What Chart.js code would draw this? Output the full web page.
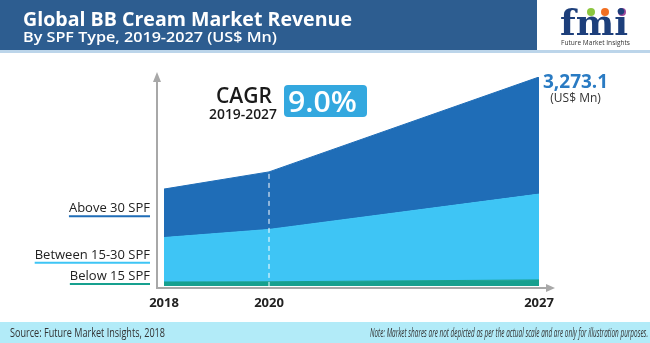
<!DOCTYPE html>
<html lang="en">
<head>
<meta charset="UTF-8">
<title>Global BB Cream Market Revenue</title>
<script src="https://cdn.jsdelivr.net/npm/chart.js@4.4.1/dist/chart.umd.min.js"></script>
<style>
  html, body { margin: 0; padding: 0; background: #fff; }
  .wrap { position: relative; width: 650px; height: 343px; overflow: hidden; }
  #chart, .deco { position: absolute; left: 0; top: 0; }
  .deco text { font-family: "Open Sans", sans-serif; }
</style>
</head>
<body>
<div class="wrap">
  <canvas id="chart" width="650" height="343"></canvas>
  <svg class="deco" width="650" height="343" xmlns="http://www.w3.org/2000/svg">
    <!-- header band -->
    <rect x="0" y="0" width="537" height="50" fill="#2d5d90"/>
    <rect x="0" y="50" width="650" height="3" fill="#bcd5ea"/>
    <text x="23" y="26" fill="#fff" font-size="19" font-weight="700" textLength="329" lengthAdjust="spacingAndGlyphs">Global BB Cream Market Revenue</text>
    <text x="23" y="42" fill="#fff" font-size="15" font-weight="600" textLength="254" lengthAdjust="spacingAndGlyphs">By SPF Type, 2019-2027 (US$ Mn)</text>
    <!-- logo -->
    <circle cx="591" cy="12" r="4" fill="#8cc63f"/>
    <circle cx="605" cy="12" r="4" fill="#f26f22"/>
    <circle cx="622" cy="12" r="4" fill="#9d4a9c"/>
    <text x="560" y="35" fill="#1d3f7b" font-size="36" font-weight="700" style="font-family:'DejaVu Serif',serif" textLength="68" lengthAdjust="spacingAndGlyphs">fmi</text>
    <text x="561" y="45" fill="#333" font-size="8" textLength="69" lengthAdjust="spacingAndGlyphs">Future Market Insights</text>
    <!-- CAGR callout -->
    <text x="216" y="103" fill="#1a1a1a" font-size="21" font-weight="600" textLength="56" lengthAdjust="spacingAndGlyphs">CAGR</text>
    <text x="209" y="119" fill="#1a1a1a" font-size="14" font-weight="600" textLength="68" lengthAdjust="spacingAndGlyphs">2019-2027</text>
    <rect x="284" y="85" width="83" height="32" rx="4" fill="#33a8df"/>
    <text x="288" y="112" fill="#fff" font-size="28" font-weight="600" textLength="69" lengthAdjust="spacingAndGlyphs">9.0%</text>
    <!-- footer -->
    <rect x="0" y="322" width="650" height="21" fill="#b2ebf8"/>
    <text x="10" y="337" fill="#333" font-size="12" textLength="155" lengthAdjust="spacingAndGlyphs">Source: Future Market Insights, 2018</text>
    <text x="370" y="337" fill="#333" font-size="12" font-style="italic" textLength="278" lengthAdjust="spacingAndGlyphs">Note: Market shares are not depicted as per the actual scale and are only for illustration purposes.</text>
  </svg>
</div>
<script>
// revenue by SPF type, US$ Mn
const years = [2018, 2020, 2027];
const yearLabels = ['2018', '2020', '2027'];
const below15 = [63, 66, 95];
const between15to30 = [696, 820, 1344];
const above30 = [759, 901, 1834.1];

const totals = years.map((_, i) => below15[i] + between15to30[i] + above30[i]);

// the time axis is drawn out of proportion: 2020 sits at 28% of the width
const axisStops = [0, 0.28, 1];

class StretchedScale extends Chart.LinearScale {
  getPixelForValue(value) {
    if (value === null || isNaN(value)) return NaN;
    let i = 0;
    while (i < years.length - 2 && value > years[i + 1]) i++;
    const t = (value - years[i]) / (years[i + 1] - years[i]);
    const dec = axisStops[i] + t * (axisStops[i + 1] - axisStops[i]);
    return this.getPixelForDecimal(dec);
  }
}
StretchedScale.id = 'stretched';
StretchedScale.defaults = {};
Chart.register(StretchedScale);

const toPoints = vals => years.map((yr, i) => ({ x: yr, y: vals[i] }));

const decorPlugin = {
  id: 'decor',
  afterDatasetsDraw(chart) {
    const { ctx, chartArea: a, scales: { x, y } } = chart;
    const base = a.bottom + 2;
    ctx.save();

    // dashed marker at 2020
    const mx = x.getPixelForValue(years[1]);
    ctx.strokeStyle = '#ffffff';
    ctx.lineWidth = 1;
    ctx.setLineDash([5, 4]);
    ctx.beginPath();
    ctx.moveTo(mx, y.getPixelForValue(totals[1]) + 2);
    ctx.lineTo(mx, base);
    ctx.stroke();
    ctx.setLineDash([]);

    // axes with arrow heads
    const ax = a.left - 7;
    ctx.strokeStyle = '#a8a8a8';
    ctx.fillStyle = '#a8a8a8';
    ctx.lineWidth = 2;
    ctx.beginPath();
    ctx.moveTo(ax, base + 1);
    ctx.lineTo(ax, a.top + 4);
    ctx.moveTo(ax, base);
    ctx.lineTo(a.right + 9, base);
    ctx.stroke();
    ctx.beginPath();
    ctx.moveTo(ax, a.top - 5);
    ctx.lineTo(ax - 4, a.top + 5);
    ctx.lineTo(ax + 4, a.top + 5);
    ctx.closePath();
    ctx.moveTo(a.right + 16, base);
    ctx.lineTo(a.right + 7, base - 4);
    ctx.lineTo(a.right + 7, base + 4);
    ctx.closePath();
    ctx.fill();

    // series names, underlined in the series colour
    ctx.font = '13px "Open Sans"';
    ctx.textAlign = 'right';
    ctx.textBaseline = 'alphabetic';
    const lx = a.left - 14;
    chart.data.datasets.forEach((ds, i) => {
      const top = chart.getDatasetMeta(i).data[0].y;
      const bottom = i === 0 ? y.getPixelForValue(0) : chart.getDatasetMeta(i - 1).data[0].y;
      const bl = Math.min((top + bottom) / 2 - 1, a.bottom - 6);
      ctx.fillStyle = '#222';
      ctx.fillText(ds.label, lx, bl);
      const w = ctx.measureText(ds.label).width;
      ctx.strokeStyle = ds.backgroundColor;
      ctx.lineWidth = 2;
      ctx.beginPath();
      ctx.moveTo(lx - w, bl + 4);
      ctx.lineTo(lx, bl + 4);
      ctx.stroke();
    });

    // total for the last year
    const last = years.length - 1;
    const tx = x.getPixelForValue(years[last]) + 4;
    const ty = y.getPixelForValue(totals[last]);
    const totalText = totals[last].toLocaleString('en-US', { minimumFractionDigits: 1, maximumFractionDigits: 1 });
    ctx.textAlign = 'left';
    ctx.fillStyle = '#2a7bc3';
    ctx.font = 'bold 19px "Open Sans"';
    ctx.fillText(totalText, tx, ty + 11);
    const tw = ctx.measureText(totalText).width;
    ctx.textAlign = 'center';
    ctx.fillStyle = '#333';
    ctx.font = '12px "Open Sans"';
    ctx.fillText('(US$ Mn)', tx + tw / 2, ty + 25);
    ctx.restore();
  }
};

new Chart(document.getElementById('chart'), {
  type: 'line',
  data: {
    datasets: [
      { label: 'Below 15 SPF', data: toPoints(below15), backgroundColor: '#17a08f', borderColor: '#17a08f', fill: 'origin' },
      { label: 'Between 15-30 SPF', data: toPoints(between15to30), backgroundColor: '#3ec5f5', borderColor: '#3ec5f5', fill: '-1' },
      { label: 'Above 30 SPF', data: toPoints(above30), backgroundColor: '#1f6db7', borderColor: '#1f6db7', fill: '-1' }
    ]
  },
  options: {
    responsive: false,
    animation: false,
    events: [],
    layout: { padding: { left: 164, right: 111, top: 77, bottom: 23.4 } },
    elements: {
      line: { borderWidth: 1, tension: 0 },
      point: { radius: 0 }
    },
    plugins: { legend: { display: false }, tooltip: { enabled: false } },
    scales: {
      x: {
        type: 'stretched',
        min: years[0],
        max: years[years.length - 1],
        afterBuildTicks: scale => { scale.ticks = years.map(v => ({ value: v })); },
        grid: { display: false, drawTicks: false },
        border: { display: false },
        ticks: {
          autoSkip: false,
          maxRotation: 0,
          padding: 9,
          color: '#222',
          font: { family: '"Open Sans"', size: 13, weight: 'bold' },
          callback: (value) => yearLabels[years.indexOf(value)]
        }
      },
      y: {
        display: false,
        stacked: true,
        min: 0,
        max: totals[totals.length - 1]
      }
    }
  },
  plugins: [decorPlugin]
});
</script>
</body>
</html>
